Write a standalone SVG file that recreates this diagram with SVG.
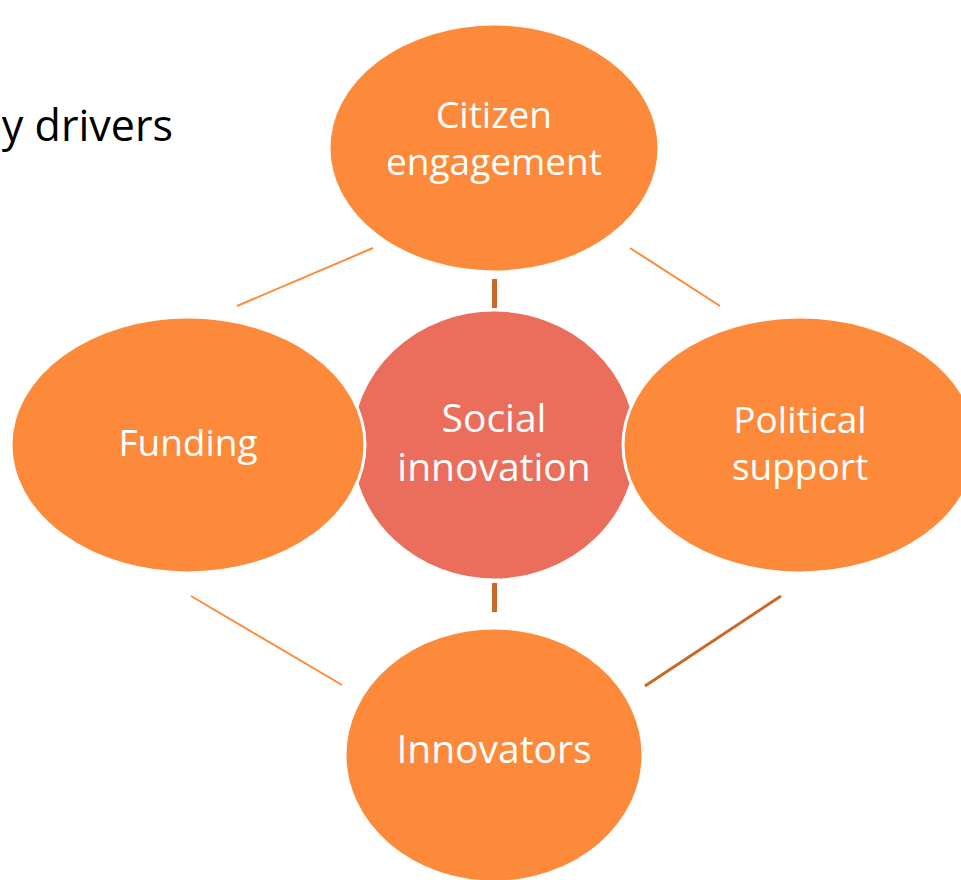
<svg xmlns="http://www.w3.org/2000/svg" width="961" height="880" viewBox="0 0 961 880">
<style>
.node{fill:#FD8A3A;stroke:#FFFFFF;stroke-width:3}
.center{fill:#EB6E5C;stroke:#FFFFFF;stroke-width:3}
.lbl{font-family:"Open Sans","Noto Sans",sans-serif;font-size:37px;fill:#FFFFFF;text-anchor:middle}
.big{font-size:39px}
.thin{stroke:#FD8A3A;stroke-width:2;fill:none}
.dark{stroke:#C8692A;fill:none}
</style>
<rect width="961" height="880" fill="#FFFFFF"/>
<text x="173" y="141" font-family="'Open Sans','Noto Sans',sans-serif" font-size="43" fill="#000000" text-anchor="end">y drivers</text>
<g id="connectors">
<line class="thin" x1="237" y1="306" x2="373" y2="248"/>
<line class="thin" x1="630" y1="248" x2="720" y2="306"/>
<line class="thin" x1="191" y1="596" x2="342" y2="685"/>
<line class="dark" stroke-width="3" x1="645" y1="686" x2="781" y2="596"/>
<line class="dark" stroke-width="5" x1="494.5" y1="279" x2="494.5" y2="308"/>
<line class="dark" stroke-width="5" x1="494.5" y1="583" x2="494.5" y2="612"/>
</g>
<g id="node-center">
<ellipse class="center" cx="494" cy="445" rx="143" ry="135"/>
<text class="lbl big" x="494" y="432">Social</text>
<text class="lbl big" x="494" y="481">innovation</text>
</g>
<g id="node-citizen">
<ellipse class="node" cx="494" cy="148" rx="165" ry="124"/>
<text class="lbl" x="494" y="128">Citizen</text>
<text class="lbl" x="494" y="175">engagement</text>
</g>
<g id="node-funding">
<ellipse class="node" cx="188" cy="445" rx="177" ry="128"/>
<text class="lbl" x="188" y="456">Funding</text>
</g>
<g id="node-political">
<ellipse class="node" cx="800" cy="445" rx="177" ry="128"/>
<text class="lbl" x="800" y="433">Political</text>
<text class="lbl" x="800" y="480">support</text>
</g>
<g id="node-innovators">
<ellipse class="node" cx="494" cy="755" rx="149" ry="127"/>
<text class="lbl big" x="494" y="763">Innovators</text>
</g>
</svg>
